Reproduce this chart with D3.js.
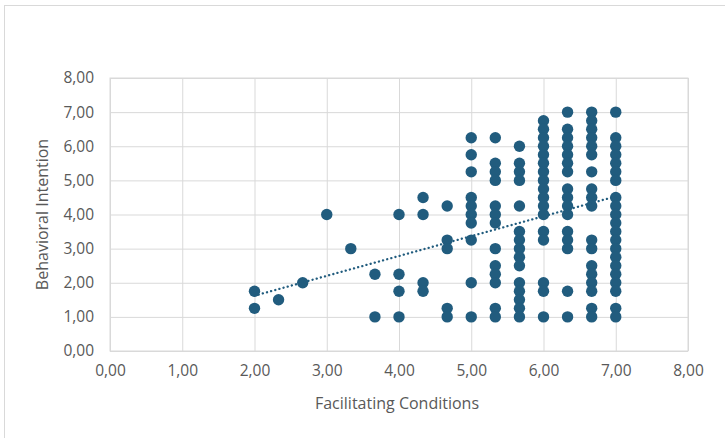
<!DOCTYPE html>
<html>
<head>
<meta charset="utf-8">
<script src="https://cdn.jsdelivr.net/npm/d3@7"></script>
<style>
  html, body { margin: 0; padding: 0; background: #fff; }
  svg { display: block; }
</style>
</head>
<body>
<svg id="chart" width="725" height="438"></svg>
<script>
// Facilitating Conditions levels (x) and the Behavioral Intention values observed at each level (y)
const fcLevels = [2, 2.333, 2.667, 3, 3.333, 3.667, 4, 4.333, 4.667, 5, 5.333, 5.667, 6, 6.333, 6.667, 7];
const biAtLevel = [
  [1.75, 1.25],
  [1.5],
  [2.0],
  [4.0],
  [3.0],
  [2.25, 1.0],
  [4.0, 2.25, 1.75, 1.0],
  [4.5, 4.0, 2.0, 1.75],
  [4.25, 3.25, 3.0, 1.25, 1.0],
  [6.25, 5.75, 5.25, 4.5, 4.25, 4.0, 3.75, 3.25, 2.0, 1.0],
  [6.25, 5.5, 5.25, 5.0, 4.25, 4.0, 3.75, 3.0, 2.5, 2.25, 2.0, 1.25, 1.0],
  [6.0, 5.5, 5.25, 5.0, 4.25, 3.5, 3.25, 3.0, 2.75, 2.5, 2.0, 1.75, 1.5, 1.25, 1.0],
  [6.75, 6.5, 6.25, 6.0, 5.75, 5.5, 5.25, 5.0, 4.75, 4.5, 4.25, 4.0, 3.5, 3.25, 2.0, 1.75, 1.0],
  [7.0, 6.5, 6.25, 6.0, 5.75, 5.5, 5.25, 4.75, 4.5, 4.25, 4.0, 3.5, 3.25, 3.0, 1.75, 1.0],
  [7.0, 6.75, 6.5, 6.25, 6.0, 5.75, 5.25, 4.75, 4.5, 4.25, 3.25, 3.0, 2.5, 2.25, 2.0, 1.75, 1.25, 1.0],
  [7.0, 6.25, 6.0, 5.75, 5.5, 5.25, 5.0, 4.5, 4.25, 4.0, 3.75, 3.5, 3.25, 3.0, 2.75, 2.5, 2.25, 2.0, 1.75, 1.25, 1.0]
];
// Linear trendline: value at start and end of the x range
const trendX = [2, 7];
const trendY = [1.62, 4.53];
const xTicks = [0, 1, 2, 3, 4, 5, 6, 7, 8];
const yTicks = [0, 1, 2, 3, 4, 5, 6, 7, 8];
const xTitle = "Facilitating Conditions";
const yTitle = "Behavioral Intention";

const points = [];
fcLevels.forEach((x, i) => biAtLevel[i].forEach(y => points.push({ x, y })));

const svg = d3.select("#chart");
const W = 725, H = 438;
const plot = { left: 110, right: 688, top: 78, bottom: 351 };
const textColor = "#595959";
const gridColor = "#D9D9D9";
const dotColor = "#215C7E";
const fontFamily = "'Open Sans', 'Noto Sans', sans-serif";

// outer chart border
svg.append("rect")
  .attr("x", 4.5).attr("y", 5.5)
  .attr("width", W + 10).attr("height", H + 10)
  .attr("fill", "#fff").attr("stroke", gridColor).attr("stroke-width", 1);

const x = d3.scaleLinear().domain([0, 8]).range([plot.left, plot.right]);
const y = d3.scaleLinear().domain([0, 8]).range([plot.bottom, plot.top]);
const fmt = d => d3.format(".2f")(d).replace(".", ",");

// gridlines via axes
const gx = svg.append("g")
  .attr("transform", `translate(0,${plot.bottom})`)
  .call(d3.axisBottom(x).tickValues(xTicks).tickSize(-(plot.bottom - plot.top)).tickFormat(fmt).tickPadding(14));
const gy = svg.append("g")
  .attr("transform", `translate(${plot.left},0)`)
  .call(d3.axisLeft(y).tickValues(yTicks).tickSize(-(plot.right - plot.left)).tickFormat(fmt).tickPadding(16));

[gx, gy].forEach(g => {
  g.select(".domain").remove();
  g.selectAll(".tick line").attr("stroke", gridColor).attr("stroke-width", 1);
  g.selectAll(".tick text")
    .attr("fill", textColor)
    .style("font-family", fontFamily)
    .style("font-size", "15.5px");
});

// plot area border
svg.append("rect")
  .attr("x", plot.left).attr("y", plot.top)
  .attr("width", plot.right - plot.left).attr("height", plot.bottom - plot.top)
  .attr("fill", "none").attr("stroke", gridColor).attr("stroke-width", 1);

// points
svg.append("g").selectAll("circle")
  .data(points)
  .join("circle")
  .attr("cx", d => x(d.x))
  .attr("cy", d => y(d.y))
  .attr("r", 5.7)
  .attr("fill", dotColor);

// trendline
svg.append("line")
  .attr("x1", x(trendX[0])).attr("y1", y(trendY[0]))
  .attr("x2", x(trendX[1])).attr("y2", y(trendY[1]))
  .attr("stroke", dotColor)
  .attr("stroke-width", 2.3)
  .attr("stroke-dasharray", "0.1,4.2")
  .attr("stroke-linecap", "round");

// axis titles
svg.append("text")
  .attr("x", (plot.left + plot.right) / 2 - 2)
  .attr("y", 409)
  .attr("text-anchor", "middle")
  .attr("fill", textColor)
  .style("font-family", fontFamily)
  .style("font-size", "16px")
  .text(xTitle);

svg.append("text")
  .attr("transform", `translate(48,${(plot.top + plot.bottom) / 2}) rotate(-90)`)
  .attr("text-anchor", "middle")
  .attr("fill", textColor)
  .style("font-family", fontFamily)
  .style("font-size", "16px")
  .text(yTitle);
</script>
</body>
</html>
